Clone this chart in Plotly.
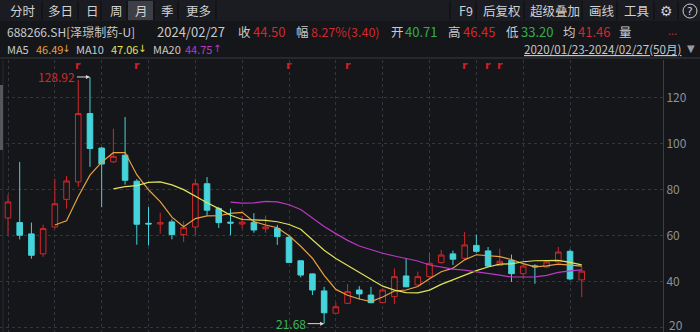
import plotly.graph_objects as go
import pandas as pd

# ---------------- data ----------------
months = [p.strftime("%Y/%m") for p in pd.period_range("2020-01", periods=50, freq="M")]
opens = [67.6, 65.6, 60.7, 52.0, 63.7, 75.7, 83.3, 113.0, 98.0, 92.0,
         94.9, 83.6, 65.3, 65.0, 65.9, 60.4, 63.7, 82.5, 71.7, 65.8,
         65.0, 65.6, 62.9, 63.1, 59.2, 49.0, 43.3, 35.9, 26.2, 30.5,
         36.3, 34.1, 30.8, 33.4, 42.4, 38.5, 42.1, 48.2, 52.0, 50.1,
         55.7, 53.3, 47.0, 49.2, 43.4, 46.8, 46.3, 48.5, 53.1, 40.71]
highs = [77.8, 92.0, 65.6, 64.7, 84.7, 85.9, 127.6, 128.92, 98.5, 106.4,
         111.5, 84.5, 72.4, 69.9, 67.0, 66.2, 84.7, 85.4, 72.4, 71.7,
         68.5, 69.7, 68.7, 64.6, 59.8, 49.2, 43.5, 37.7, 30.8, 38.9,
         38.0, 37.7, 37.0, 45.7, 50.1, 44.3, 52.5, 53.7, 53.4, 61.5,
         60.3, 55.0, 54.3, 51.7, 47.7, 47.5, 49.0, 55.0, 54.0, 46.45]
lows = [60.1, 58.3, 49.9, 50.7, 63.0, 71.7, 81.1, 89.8, 72.3, 91.5,
        82.1, 56.0, 55.7, 60.8, 58.3, 57.2, 60.1, 68.8, 63.3, 60.1,
        63.0, 61.2, 61.2, 55.9, 48.2, 41.8, 34.1, 21.68, 26.0, 30.3,
        32.3, 30.5, 30.5, 30.2, 37.5, 38.3, 41.8, 47.8, 47.2, 49.5,
        52.5, 46.3, 46.8, 39.8, 41.2, 39.0, 46.0, 48.3, 40.5, 33.20]
closes = [74.6, 60.1, 51.4, 63.0, 73.8, 83.7, 113.0, 97.8, 91.1, 94.4,
          84.0, 64.9, 65.0, 65.5, 60.4, 63.4, 82.5, 71.0, 65.6, 65.4,
          65.8, 62.4, 63.7, 59.5, 48.3, 42.8, 36.3, 26.4, 29.0, 35.6,
          34.6, 30.8, 36.3, 42.1, 37.7, 42.1, 47.9, 51.5, 49.7, 55.9,
          53.1, 46.7, 48.8, 43.4, 46.7, 46.4, 48.5, 52.8, 41.1, 44.50]
event_idx = [6, 11, 24, 29, 39, 41, 42]
y_ticks = [40, 60, 80, 100, 120]

BG = "#151619"
RED = "#d0282c"
CYAN = "#45d4db"
GREEN = "#2fb04c"
C_MA5 = "#e8a040"
C_MA10 = "#e2e25c"
C_MA20 = "#bb38c4"
GRAY = "#c8c9cc"
FONT = "Noto Sans CJK SC"

s = pd.Series(closes)
ma5 = s.rolling(5).mean()
ma10 = s.rolling(10).mean()
ma20 = s.rolling(20).mean()

fig = go.Figure()
fig.add_trace(go.Candlestick(
    x=months, open=opens, high=highs, low=lows, close=closes,
    increasing=dict(line=dict(color=RED, width=1), fillcolor=BG),
    decreasing=dict(line=dict(color=CYAN, width=1), fillcolor=CYAN),
    whiskerwidth=0, showlegend=False, hoverinfo="skip"))
for ma, col in [(ma5, C_MA5), (ma10, C_MA10), (ma20, C_MA20)]:
    fig.add_trace(go.Scatter(x=months, y=ma.tolist(), mode="lines",
                             line=dict(color=col, width=1.2), showlegend=False,
                             hoverinfo="skip"))

ML, MR, MT, MB = 0, 37, 60, 0
W, H = 700, 332
PW, PH = W - ML - MR, H - MT - MB


def px(x):
    return (x - ML) / PW


def py(y):
    return 1 - (y - MT) / PH


anns = []
shapes = []


def ann(x, y, text, color=GRAY, size=13, xanchor="left", family=FONT):
    anns.append(dict(x=px(x), y=py(y), xref="paper", yref="paper", text=text,
                     showarrow=False, xanchor=xanchor, yanchor="middle",
                     font=dict(color=color, size=size, family=family)))


# tab bar
shapes.append(dict(type="rect", xref="paper", yref="paper", x0=px(0), x1=px(700),
                   y0=py(0), y1=py(21), fillcolor="#1b1c21", line=dict(width=0), layer="below"))
shapes.append(dict(type="rect", xref="paper", yref="paper", x0=px(128), x1=px(153),
                   y0=py(1), y1=py(20), fillcolor="#3d3f46", line=dict(width=0), layer="below"))
for sx in [42, 78, 101, 127, 154, 178, 216, 450, 476, 524, 582, 617, 654, 678]:
    shapes.append(dict(type="line", xref="paper", yref="paper", x0=px(sx), x1=px(sx),
                       y0=py(1), y1=py(20), line=dict(color="#0c0c0e", width=1)))
row1 = 11
for x, t in [(8, "分时"), (46, "多日"), (84, "日"), (108, "周"), (133, "月"), (159, "季"), (184, "更多")]:
    ann(x, row1, t, "#d0d1d4", 12.5)
for x, t in [(457, "F9"), (481, "后复权"), (528, "超级叠加"), (587, "画线"), (622, "工具")]:
    ann(x, row1, t, "#d0d1d4", 12.5)
ann(666.5, row1, "⚙", "#d0d1d4", 14, xanchor="center", family="DejaVu Sans")
shapes.append(dict(type="circle", xref="paper", yref="paper", x0=px(683), x1=px(697),
                   y0=py(4), y1=py(18), line=dict(color="#d0d1d4", width=1)))
ann(690, row1, "?", "#d0d1d4", 10.5, xanchor="center", family="DejaVu Sans")

# info row
row2 = 32
ann(5, row2, "688266.SH[泽璟制药-U]", GRAY, 12)
ann(155, row2, "2024/02/27", GRAY, 13)
ann(236, row2, "收", GRAY, 12.5)
ann(251, row2, "44.50", RED, 13)
ann(294, row2, "幅", GRAY, 12.5)
ann(309, row2, "8.27%(3.40)", RED, 12.5)
ann(389, row2, "开", GRAY, 12.5)
ann(403, row2, "40.71", GREEN, 13)
ann(446, row2, "高", GRAY, 12.5)
ann(461, row2, "46.45", RED, 13)
ann(504, row2, "低", GRAY, 12.5)
ann(519, row2, "33.20", GREEN, 13)
ann(561, row2, "均", GRAY, 12.5)
ann(576, row2, "41.46", RED, 13)
ann(617, row2, "量", GRAY, 12.5)
ann(666, row2 - 2, "...", RED, 11)

row3 = 49
ann(5, row3, "MA5", GRAY, 11)
ann(34, row3, "46.49", C_MA5, 11)
ann(60, row3, "↓", C_MA5, 10, family="DejaVu Sans")
ann(74, row3, "MA10", GRAY, 11)
ann(109, row3, "47.06", C_MA10, 11)
ann(136, row3, "↓", C_MA10, 10, family="DejaVu Sans")
ann(151, row3, "MA20", GRAY, 11)
ann(183, row3, "44.75", C_MA20, 11)
ann(211, row3, "↑", C_MA20, 10, family="DejaVu Sans")
ann(683, row3, "<u>2020/01/23-2024/02/27(50月)</u>", GRAY, 11.6, xanchor="right")
ann(691, row3, "▼", "#9a9ba0", 10, xanchor="center", family="DejaVu Sans")

# separator line under header
shapes.append(dict(type="line", xref="paper", yref="paper", x0=px(0), x1=px(700),
                   y0=py(58), y1=py(58), line=dict(color="#3a3b40", width=1)))
# left border & scroll marker
shapes.append(dict(type="line", xref="paper", yref="paper", x0=px(3), x1=px(3),
                   y0=py(60), y1=py(332), line=dict(color="#2a2b30", width=1)))
shapes.append(dict(type="rect", xref="paper", yref="paper", x0=px(0), x1=px(3),
                   y0=py(150), y1=py(85), fillcolor="#55575d", line=dict(width=0)))

# lowest axis label, lifted to stay inside the window
ann(667, 324, "20", "#8e9096", 12)

# event markers
for i in event_idx:
    anns.append(dict(x=months[i], y=py(65), xref="x", yref="paper", text="<b>r</b>",
                     showarrow=False, xanchor="center", yanchor="middle",
                     font=dict(color="#d0202a", size=11, family="DejaVu Sans")))

# high / low labels
i_hi = highs.index(max(highs))
i_lo = lows.index(min(lows))
anns.append(dict(x=months[i_hi], y=highs[i_hi], xref="x", yref="y", text=f"{highs[i_hi]:.2f}",
                 showarrow=True, arrowhead=2, arrowsize=0.8, arrowwidth=1, arrowcolor="#d8d8d8",
                 ax=-33, ay=0, font=dict(color=RED, size=12, family=FONT)))
anns.append(dict(x=months[i_lo], y=lows[i_lo], xref="x", yref="y", text=f"{lows[i_lo]:.2f}",
                 showarrow=True, arrowhead=2, arrowsize=0.8, arrowwidth=1, arrowcolor="#d8d8d8",
                 ax=-33, ay=0, font=dict(color="#3cb558", size=12, family=FONT)))

fig.update_layout(
    width=W, height=H, margin=dict(l=ML, r=MR, t=MT, b=MB),
    paper_bgcolor=BG, plot_bgcolor=BG, boxgap=0.32,
    annotations=anns, shapes=shapes, showlegend=False,
    xaxis=dict(type="category", range=[-0.683, 55.94], rangeslider=dict(visible=False),
               showticklabels=False, ticks="", tickvals=months[::4],
               showgrid=True, gridcolor="#34363d", griddash="dot", gridwidth=1,
               zeroline=False, showline=False, fixedrange=True),
    yaxis=dict(range=[18.04, 136.3], side="right", tickvals=y_ticks + [20],
               ticktext=[str(v) for v in y_ticks] + [""], ticks="",
               tickfont=dict(color="#8e9096", size=12, family=FONT),
               showgrid=True, gridcolor="#34363d", griddash="dot", gridwidth=1,
               zeroline=False, showline=True, linecolor="#3c3e44", linewidth=1,
               fixedrange=True),
)
fig.write_html("out.html")
